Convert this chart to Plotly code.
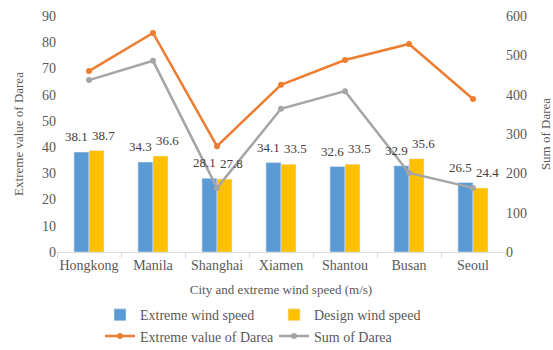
import plotly.graph_objects as go

cities = ["Hongkong", "Manila", "Shanghai", "Xiamen", "Shantou", "Busan", "Seoul"]
extreme_wind = [38.1, 34.3, 28.1, 34.1, 32.6, 32.9, 26.5]
design_wind = [38.7, 36.6, 27.8, 33.5, 33.5, 35.6, 24.4]
extreme_darea = [460, 557, 269, 425, 488, 529, 389]
sum_darea = [437, 486, 163, 364, 409, 201, 163]

FONT = "Liberation Serif"
GREY = "#595959"

fig = go.Figure()
fig.add_trace(go.Bar(x=cities, y=extreme_wind, name="Extreme wind speed",
                     marker_color="#5B9BD5"))
fig.add_trace(go.Bar(x=cities, y=design_wind, name="Design wind speed",
                     marker_color="#FFC000"))
fig.add_trace(go.Scatter(x=cities, y=extreme_darea, name="Extreme value of Darea",
                         mode="lines+markers", yaxis="y2",
                         line=dict(color="#ED7D31", width=2.5),
                         marker=dict(color="#ED7D31", size=6)))
fig.add_trace(go.Scatter(x=cities, y=sum_darea, name="Sum of Darea",
                         mode="lines+markers", yaxis="y2",
                         line=dict(color="#A5A5A5", width=2.5),
                         marker=dict(color="#A5A5A5", size=6)))

# data labels
for c, v in zip(cities, extreme_wind):
    fig.add_annotation(x=c, y=v, xref="x", yref="y", text=f"{v:.1f}", showarrow=False,
                       xshift=-13, yshift=6, yanchor="bottom",
                       font=dict(family=FONT, size=13, color="#404040"))
for c, v in zip(cities, design_wind):
    fig.add_annotation(x=c, y=v, xref="x", yref="y", text=f"{v:.1f}", showarrow=False,
                       xshift=14, yshift=6, yanchor="bottom",
                       font=dict(family=FONT, size=13, color="#404040"))

fig.update_layout(
    width=553, height=350,
    margin=dict(l=57, r=48, t=16, b=98, autoexpand=False),
    paper_bgcolor="white", plot_bgcolor="white",
    font=dict(family=FONT, size=14, color=GREY),
    barmode="group", bargap=0.53, bargroupgap=0,
    showlegend=True,
    legend=dict(orientation="h", x=0.096, xanchor="left",
                yref="container", y=0.145, yanchor="top",
                entrywidth=129, font=dict(family=FONT, size=14, color=GREY),
                traceorder="normal", itemwidth=30, tracegroupgap=0),
    xaxis=dict(title=dict(text="City and extreme wind speed (m/s)", standoff=13,
                          font=dict(family=FONT, size=13, color=GREY)),
               showline=True, linecolor="#D9D9D9", linewidth=1, tickangle=0,
               ticks="outside", tickson="boundaries", ticklen=5, tickcolor="#D9D9D9",
               showgrid=False, tickfont=dict(family=FONT, size=14, color=GREY)),
    yaxis=dict(title=dict(text="Extreme value of Darea", standoff=15,
                          font=dict(family=FONT, size=13, color=GREY)),
               range=[0, 90], dtick=10, showgrid=False, zeroline=False,
               tickfont=dict(family=FONT, size=14, color=GREY)),
    yaxis2=dict(title=dict(text="Sum of Darea", standoff=17,
                           font=dict(family=FONT, size=13, color=GREY)),
                range=[0, 600], dtick=100, overlaying="y", side="right",
                showgrid=False, zeroline=False,
                tickfont=dict(family=FONT, size=14, color=GREY)),
)

fig.write_html("out.html")
